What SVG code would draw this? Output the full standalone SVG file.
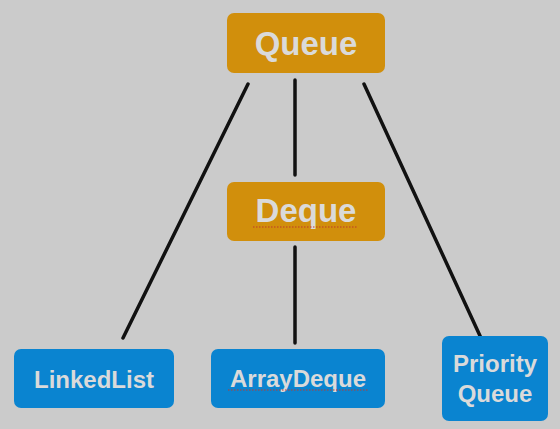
<svg xmlns="http://www.w3.org/2000/svg" width="560" height="429" viewBox="0 0 560 429">
<style>
.bg{fill:#cbcbcb}
.o{fill:#d18f0c}
.b{fill:#0a84d0}
.t{font-family:"Liberation Sans",Arial,sans-serif;font-weight:bold;fill:#dadada;text-anchor:middle}
.big{font-size:33px}
.sm{font-size:24px}
.c line{stroke:#111;stroke-width:3.5;stroke-linecap:round}
.sp{stroke:#c0392b;stroke-width:1.2;stroke-dasharray:1.5 1.5;fill:none}
</style>
<rect class="bg" x="0" y="0" width="560" height="429"/>
<g id="connectors" class="c">
<line x1="248" y1="84" x2="123" y2="338"/>
<line x1="295" y1="80" x2="295" y2="175"/>
<line x1="364" y1="84" x2="481" y2="338"/>
<line x1="295" y1="247" x2="295" y2="343"/>
</g>
<g id="queue">
<rect class="o" x="227" y="13" width="158" height="60" rx="7"/>
<text class="t big" x="306" y="55">Queue</text>
</g>
<g id="deque">
<rect class="o" x="227" y="182" width="158" height="59" rx="7"/>
<text class="t big" x="306" y="222">Deque</text>
<path class="sp" d="M253 227H358"/>
</g>
<g id="linkedlist">
<rect class="b" x="14" y="349" width="160" height="59" rx="7"/>
<text class="t sm" x="94" y="388">LinkedList</text>
</g>
<g id="arraydeque">
<rect class="b" x="211" y="349" width="174" height="59" rx="7"/>
<text class="t sm" x="298" y="387">ArrayDeque</text>
<path class="sp" d="M228 390H368"/>
</g>
<g id="priorityqueue">
<rect class="b" x="442" y="336" width="106" height="85" rx="7"/>
<text class="t sm" x="495" y="372">Priority</text>
<text class="t sm" x="495" y="402">Queue</text>
</g>
</svg>
